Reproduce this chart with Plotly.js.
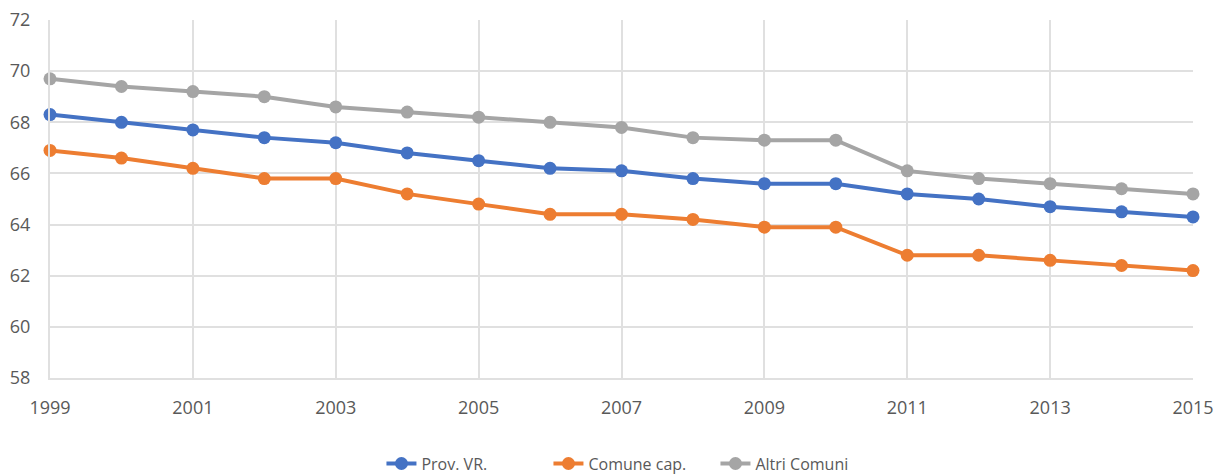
<!DOCTYPE html>
<html>
<head>
<meta charset="utf-8">
<script src="https://cdn.plot.ly/plotly-3.0.1.min.js"></script>
<style>
  body { margin: 0; background: #fff; }
  #graph { width: 1220px; height: 474px; }
</style>
</head>
<body>
<div id="graph"></div>
<script>
var years = [1999, 2000, 2001, 2002, 2003, 2004, 2005, 2006, 2007, 2008, 2009, 2010, 2011, 2012, 2013, 2014, 2015];
var provVR = [68.3, 68.0, 67.7, 67.4, 67.2, 66.8, 66.5, 66.2, 66.1, 65.8, 65.6, 65.6, 65.2, 65.0, 64.7, 64.5, 64.3];
var comuneCap = [66.9, 66.6, 66.2, 65.8, 65.8, 65.2, 64.8, 64.4, 64.4, 64.2, 63.9, 63.9, 62.8, 62.8, 62.6, 62.4, 62.2];
var altriComuni = [69.7, 69.4, 69.2, 69.0, 68.6, 68.4, 68.2, 68.0, 67.8, 67.4, 67.3, 67.3, 66.1, 65.8, 65.6, 65.4, 65.2];
var names = ["Prov. VR.", "Comune cap.", "Altri Comuni"];
var colors = ["#4472C4", "#ED7D31", "#A5A5A5"];

var series = [provVR, comuneCap, altriComuni];
var data = series.map(function(vals, i) {
  return {
    x: years,
    y: vals,
    name: names[i],
    type: "scatter",
    mode: "lines+markers",
    line: { color: colors[i], width: 4 },
    marker: { color: colors[i], size: 13 },
    cliponaxis: false
  };
});

var gridColor = "#e0e0e0";
var layout = {
  width: 1220,
  height: 474,
  paper_bgcolor: "#ffffff",
  plot_bgcolor: "#ffffff",
  margin: { l: 50, r: 27, t: 20, b: 96 },
  font: { family: "Open Sans, sans-serif", size: 18, color: "#595959" },
  showlegend: true,
  legend: {
    orientation: "h",
    x: 0.518,
    xanchor: "center",
    xref: "container",
    y: 0.022,
    yanchor: "middle",
    yref: "container",
    font: { size: 16, color: "#595959" },
    itemwidth: 30,
    entrywidth: 122
  },
  xaxis: {
    range: [1999, 2015],
    tickvals: [1999, 2001, 2003, 2005, 2007, 2009, 2011, 2013, 2015],
    showgrid: true,
    gridcolor: gridColor,
    gridwidth: 2,
    showline: true,
    linecolor: gridColor,
    linewidth: 2,
    zeroline: false,
    ticks: "",
    ticklabelstandoff: 12
  },
  yaxis: {
    range: [58, 72],
    dtick: 2,
    showgrid: true,
    gridcolor: gridColor,
    gridwidth: 2,
    showline: true,
    linecolor: gridColor,
    linewidth: 2,
    zeroline: false,
    ticks: "",
    ticklabelstandoff: 14
  }
};

Plotly.newPlot(document.getElementById("graph"), data, layout, { staticPlot: true });
</script>
</body>
</html>
